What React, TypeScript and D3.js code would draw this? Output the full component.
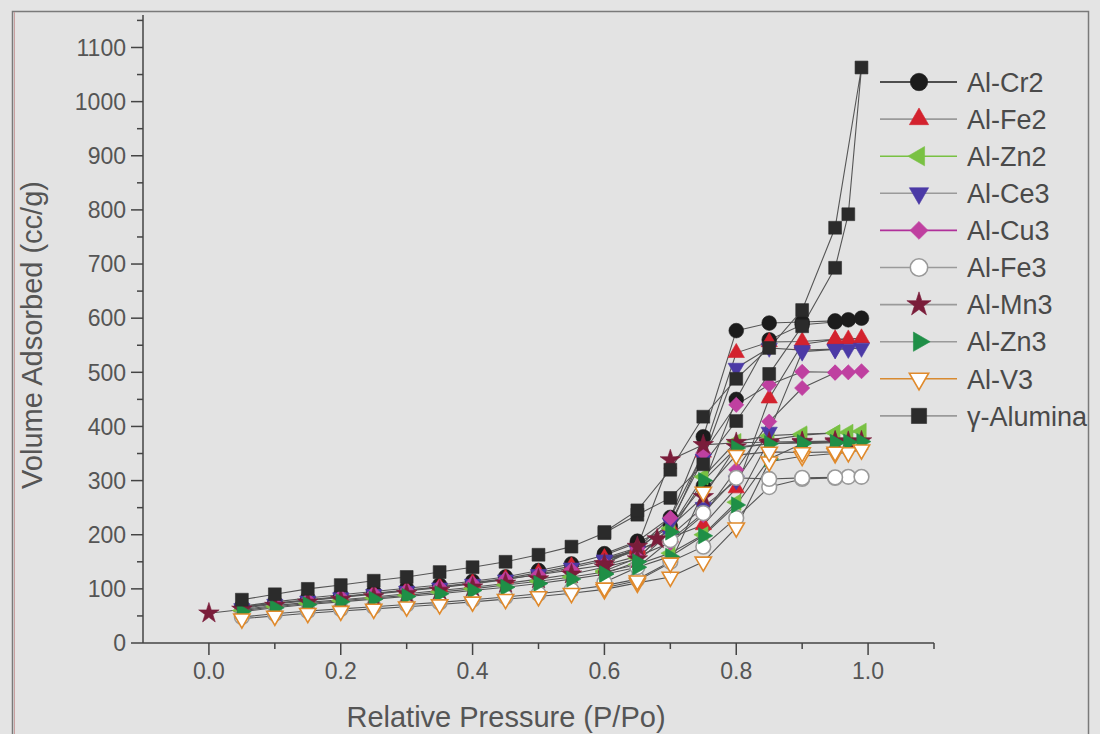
import React from "react";
import * as d3 from "d3";

// relative pressure points (adsorption up, desorption down)
const P_ADS = [0.05, 0.1, 0.15, 0.2, 0.25, 0.3, 0.35, 0.4, 0.45, 0.5, 0.55, 0.6, 0.65, 0.7, 0.75, 0.8, 0.85, 0.9, 0.95, 0.97, 0.99];
const P_ADS_MN3 = [0, 0.05, 0.1, 0.15, 0.2, 0.25, 0.3, 0.35, 0.4, 0.45, 0.5, 0.55, 0.6, 0.65, 0.68, 0.75, 0.8, 0.85, 0.9, 0.95, 0.97, 0.99];
const P_DES = [0.95, 0.9, 0.85, 0.8, 0.75, 0.7, 0.65, 0.6];

// volume adsorbed (cc/g)
const CR2_ADS = [68, 76, 83, 89, 95, 101, 107, 114, 122, 134, 146, 162, 185, 215, 290, 450, 560, 588, 593, 597, 600];
const CR2_DES = [595, 593, 591, 577, 381, 232, 188, 165];
const FE2_ADS = [66, 74, 80, 86, 92, 98, 104, 111, 119, 130, 142, 155, 172, 195, 218, 286, 452, 552, 560, 561, 563];
const FE2_DES = [561, 557, 556, 536, 352, 215, 176, 157];
const ZN2_ADS = [60, 67, 73, 78, 83, 88, 94, 100, 107, 114, 122, 131, 145, 166, 200, 260, 375, 384, 388, 389, 391];
const ZN2_DES = [388, 386, 383, 372, 307, 212, 157, 133];
const CE3_ADS = [64, 72, 78, 84, 90, 96, 102, 109, 117, 127, 139, 152, 170, 198, 251, 300, 390, 538, 542, 543, 545];
const CE3_DES = [543, 541, 545, 508, 340, 222, 172, 154];
const CU3_ADS = [66, 73, 79, 85, 91, 97, 103, 110, 118, 126, 135, 144, 160, 185, 236, 320, 409, 471, 499, 500, 502];
const CU3_DES = [500, 501, 477, 440, 351, 231, 175, 146];
const FE3_ADS = [48, 54, 59, 63, 67, 71, 75, 80, 85, 91, 98, 106, 118, 150, 178, 231, 288, 303, 305, 307, 307];
const FE3_DES = [306, 305, 303, 305, 240, 190, 140, 112];
const MN3_ADS = [55, 62, 69, 75, 80, 85, 91, 97, 103, 110, 118, 127, 140, 155, 192, 270, 362, 368, 370, 371, 372, 373];
const MN3_DES = [373, 372, 371, 370, 366, 338, 178, 146];
const ZN3_ADS = [58, 65, 71, 76, 81, 86, 91, 97, 103, 110, 118, 127, 140, 160, 198, 255, 340, 368, 370, 371, 372];
const ZN3_DES = [370, 370, 368, 360, 300, 205, 150, 128];
const V3_ADS = [45, 50, 55, 59, 63, 67, 71, 76, 81, 86, 92, 99, 111, 122, 150, 213, 335, 345, 350, 352, 357];
const V3_DES = [353, 352, 353, 347, 279, 148, 115, 102];
const ALU_ADS = [80, 90, 100, 107, 115, 122, 131, 140, 150, 163, 178, 203, 237, 268, 330, 410, 497, 585, 693, 792, 1063];
const ALU_DES = [767, 615, 545, 488, 418, 320, 245, 205];

const SERIES_NAMES = ["Al-Cr2", "Al-Fe2", "Al-Zn2", "Al-Ce3", "Al-Cu3", "Al-Fe3", "Al-Mn3", "Al-Zn3", "Al-V3", "γ-Alumina"];

const X_TICKS = [0, 0.2, 0.4, 0.6, 0.8, 1.0];
const X_MINOR = [0.1, 0.3, 0.5, 0.7, 0.9, 1.1];
const Y_TICKS = d3.range(0, 1101, 100);
const Y_MINOR = d3.range(50, 1151, 100);

type Shape = "circle" | "up" | "left" | "down" | "diamond" | "star" | "right" | "square";

interface Series {
  name: string;
  pAds: number[];
  ads: number[];
  des: number[];
  shape: Shape;
  fill: string;
  stroke: string;
  legendLine: string;
}

const series: Series[] = [
  { name: SERIES_NAMES[0], pAds: P_ADS, ads: CR2_ADS, des: CR2_DES, shape: "circle", fill: "#1c1c1c", stroke: "#1c1c1c", legendLine: "#1c1c1c" },
  { name: SERIES_NAMES[1], pAds: P_ADS, ads: FE2_ADS, des: FE2_DES, shape: "up", fill: "#d3222e", stroke: "#d3222e", legendLine: "#9a9a9a" },
  { name: SERIES_NAMES[2], pAds: P_ADS, ads: ZN2_ADS, des: ZN2_DES, shape: "left", fill: "#79c143", stroke: "#79c143", legendLine: "#79c143" },
  { name: SERIES_NAMES[3], pAds: P_ADS, ads: CE3_ADS, des: CE3_DES, shape: "down", fill: "#4b3aa6", stroke: "#4b3aa6", legendLine: "#9a9a9a" },
  { name: SERIES_NAMES[4], pAds: P_ADS, ads: CU3_ADS, des: CU3_DES, shape: "diamond", fill: "#bf40a0", stroke: "#bf40a0", legendLine: "#b0309a" },
  { name: SERIES_NAMES[5], pAds: P_ADS, ads: FE3_ADS, des: FE3_DES, shape: "circle", fill: "#ffffff", stroke: "#9a9a9a", legendLine: "#9a9a9a" },
  { name: SERIES_NAMES[6], pAds: P_ADS_MN3, ads: MN3_ADS, des: MN3_DES, shape: "star", fill: "#7a1d3a", stroke: "#7a1d3a", legendLine: "#9a9a9a" },
  { name: SERIES_NAMES[7], pAds: P_ADS, ads: ZN3_ADS, des: ZN3_DES, shape: "right", fill: "#1f8f47", stroke: "#1f8f47", legendLine: "#9a9a9a" },
  { name: SERIES_NAMES[8], pAds: P_ADS, ads: V3_ADS, des: V3_DES, shape: "down", fill: "#ffffff", stroke: "#e08a2c", legendLine: "#d88a30" },
  { name: SERIES_NAMES[9], pAds: P_ADS, ads: ALU_ADS, des: ALU_DES, shape: "square", fill: "#2b2b2b", stroke: "#2b2b2b", legendLine: "#9a9a9a" },
];

const W = 1100;
const H = 734;
const FONT = "'Liberation Sans', Arial, sans-serif";
const TEXT = "#555555";

const x = d3.scaleLinear().domain([-0.1, 1.1]).range([143, 934]);
const y = d3.scaleLinear().domain([0, 1160]).range([643, 15]);

function markerPath(shape: Shape, k = 1): { d: string; rot: number } {
  const gen = d3.symbol();
  switch (shape) {
    case "circle":
      return { d: gen.type(d3.symbolCircle).size(170 * k)()!, rot: 0 };
    case "square":
      return { d: gen.type(d3.symbolSquare).size(165 * k)()!, rot: 0 };
    case "diamond":
      return { d: gen.type(d3.symbolSquare).size(115 * k)()!, rot: 45 };
    case "star":
      return { d: gen.type(d3.symbolStar).size(130 * k)()!, rot: 0 };
    case "up":
      return { d: gen.type(d3.symbolTriangle).size(115 * k)()!, rot: 0 };
    case "down":
      return { d: gen.type(d3.symbolTriangle).size(115 * k)()!, rot: 180 };
    case "left":
      return { d: gen.type(d3.symbolTriangle).size(115 * k)()!, rot: -90 };
    case "right":
      return { d: gen.type(d3.symbolTriangle).size(115 * k)()!, rot: 90 };
  }
}

const Marker = ({ s, cx, cy, k = 1 }: { s: Series; cx: number; cy: number; k?: number }) => {
  const { d, rot } = markerPath(s.shape, k);
  const open = s.fill === "#ffffff";
  return (
    <path
      d={d}
      transform={`translate(${cx},${cy}) rotate(${rot})`}
      fill={s.fill}
      stroke={s.stroke}
      strokeWidth={open ? 1.6 : 0.6}
    />
  );
};

const App = () => {
  const line = d3
    .line<[number, number]>()
    .x((d) => x(d[0]))
    .y((d) => y(d[1]));

  const pts = (s: Series): [number, number][] => [
    ...s.pAds.map((p, i) => [p, s.ads[i]] as [number, number]),
    ...P_DES.map((p, i) => [p, s.des[i]] as [number, number]),
  ];

  const legendY = (i: number) => 82 + i * 37.1;

  return (
    <svg
      width={W}
      height={H}
      viewBox={`0 0 ${W} ${H}`}
      style={{ position: "absolute", left: 0, top: 0, display: "block" }}
      fontFamily={FONT}
    >
      <rect x={0} y={0} width={W} height={H} fill="#e4e4e4" />
      <rect x={12.5} y={11.5} width={1076} height={740} fill="#e3e3e3" stroke="#7a7a7a" strokeWidth={1.5} />
      <line x1={14.5} y1={12} x2={14.5} y2={H} stroke="#c9a0a0" strokeWidth={1} />

      {/* series lines */}
      {series.map((s) => (
        <path key={s.name + "-l"} d={line(pts(s))!} fill="none" stroke="#555" strokeWidth={1.1} />
      ))}
      {/* markers */}
      {series.map((s) => (
        <g key={s.name + "-m"}>
          {pts(s).map((d, i) => (
            <Marker key={i} s={s} cx={x(d[0])} cy={y(d[1])} />
          ))}
        </g>
      ))}

      {/* y axis */}
      <line x1={x(-0.1)} x2={x(-0.1)} y1={y(1160)} y2={y(0)} stroke="#444" strokeWidth={1.5} />
      {Y_TICKS.map((t) => (
        <g key={"yt" + t}>
          <line x1={x(-0.1) - 12} x2={x(-0.1)} y1={y(t)} y2={y(t)} stroke="#444" strokeWidth={1.5} />
          <text x={126} y={y(t)} dy="0.36em" textAnchor="end" fontSize={23} fill={TEXT}>
            {t}
          </text>
        </g>
      ))}
      {Y_MINOR.map((t) => (
        <line key={"ym" + t} x1={x(-0.1) - 6} x2={x(-0.1)} y1={y(t)} y2={y(t)} stroke="#444" strokeWidth={1.5} />
      ))}

      {/* x axis */}
      <line x1={x(-0.1)} x2={x(1.1)} y1={y(0)} y2={y(0)} stroke="#444" strokeWidth={1.5} />
      {X_TICKS.map((t) => (
        <g key={"xt" + t}>
          <line x1={x(t)} x2={x(t)} y1={y(0)} y2={y(0) + 12} stroke="#444" strokeWidth={1.5} />
          <text x={x(t)} y={679} textAnchor="middle" fontSize={23} fill={TEXT}>
            {t.toFixed(1)}
          </text>
        </g>
      ))}
      {X_MINOR.map((t) => (
        <line key={"xm" + t} x1={x(t)} x2={x(t)} y1={y(0)} y2={y(0) + 6} stroke="#444" strokeWidth={1.5} />
      ))}

      {/* axis titles */}
      <text x={506} y={727} textAnchor="middle" fontSize={29} fill={TEXT}>
        Relative Pressure (P/Po)
      </text>
      <text transform={`translate(42,335) rotate(-90)`} textAnchor="middle" fontSize={29} fill={TEXT}>
        Volume Adsorbed (cc/g)
      </text>

      {/* legend */}
      {series.map((s, i) => (
        <g key={s.name + "-lg"}>
          <line x1={880} x2={957} y1={legendY(i)} y2={legendY(i)} stroke={s.legendLine} strokeWidth={1.6} />
          <Marker s={s} cx={919} cy={legendY(i)} k={1.4} />
          <text x={967} y={legendY(i)} dy="0.36em" fontSize={27} fill="#4a4a4a">
            {s.name}
          </text>
        </g>
      ))}
    </svg>
  );
};

export default App;
